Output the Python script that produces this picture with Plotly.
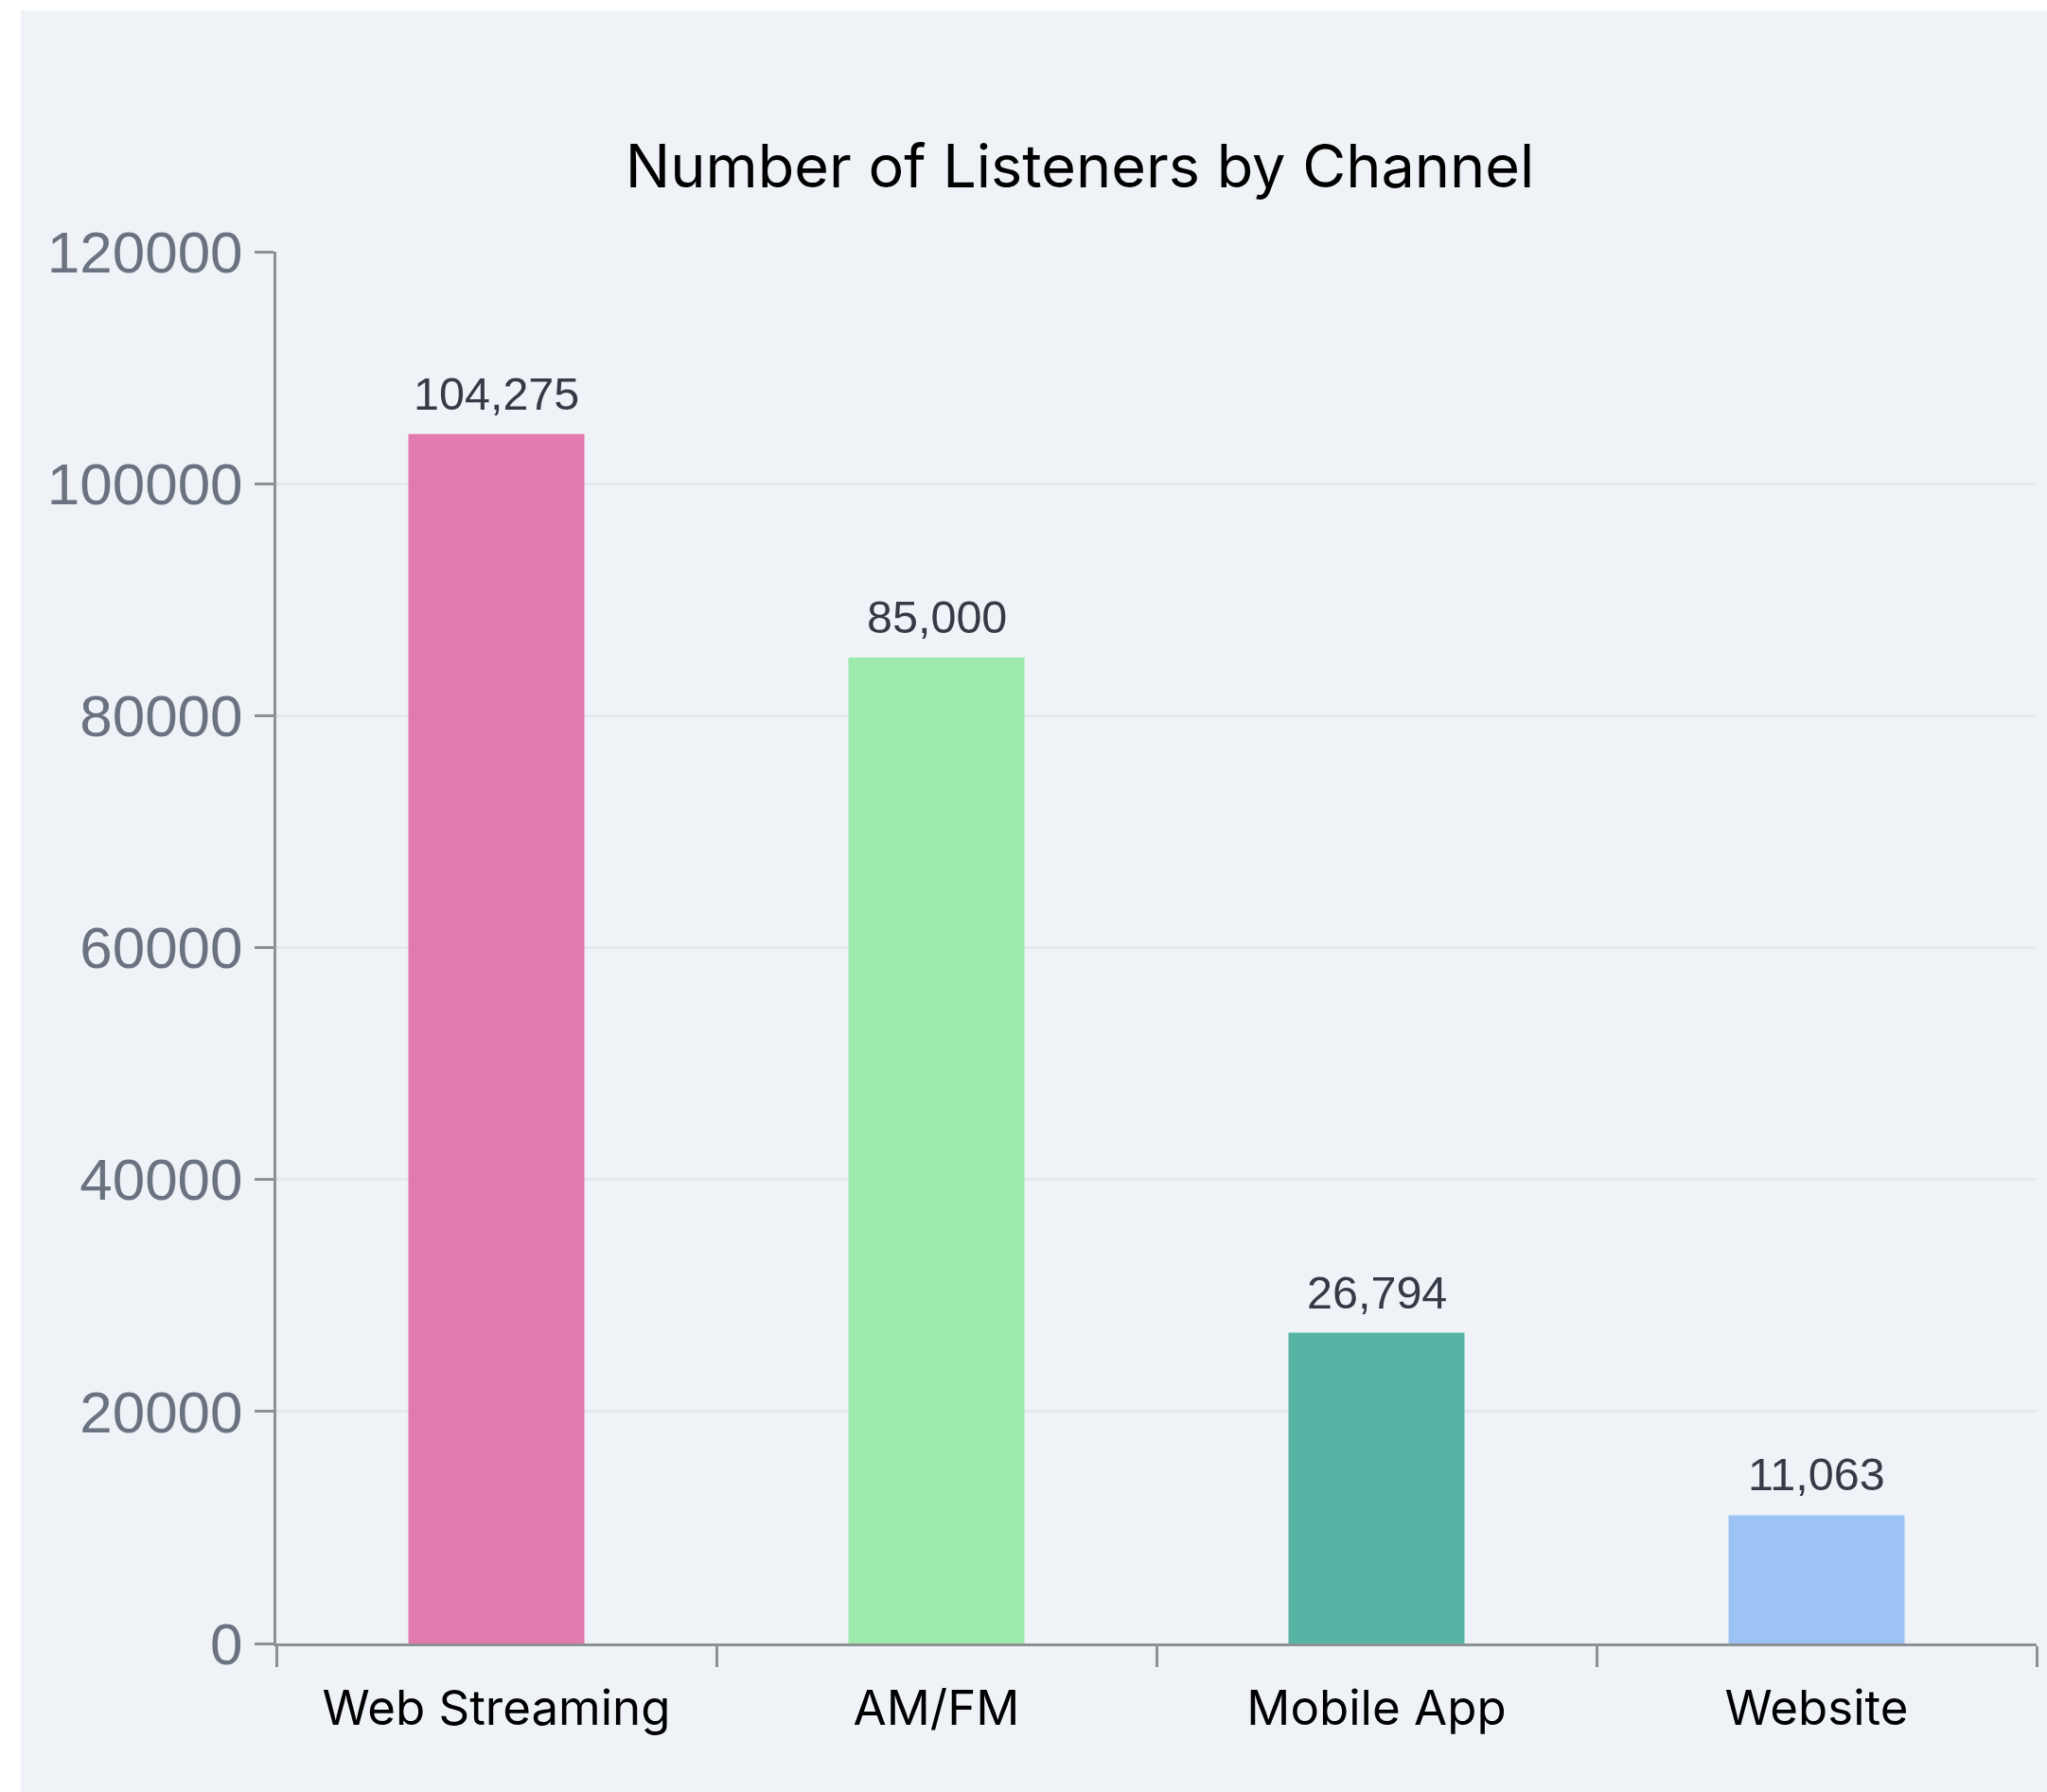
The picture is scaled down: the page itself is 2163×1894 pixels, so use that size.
import plotly.graph_objects as go

# Listener counts per channel
channels = ["Web Streaming", "AM/FM", "Mobile App", "Website"]
listeners = [104275, 85000, 26794, 11063]
bar_colors = ["#e279af", "#9deaad", "#56b4a5", "#9cc3f4"]

# Y axis ticks
y_ticks = [0, 20000, 40000, 60000, 80000, 100000, 120000]

W, H = 2163, 1894
M_L, M_R, M_T, M_B = 292, 11, 266, 157
panel = "#eff3f8"
axis_grey = "#8c9294"

fig = go.Figure()
fig.add_trace(go.Bar(
    x=channels,
    y=listeners,
    marker=dict(color=bar_colors, line=dict(width=0)),
    hoverinfo="x+y",
))

# Value labels above each bar
for c, v in zip(channels, listeners):
    fig.add_annotation(
        x=c, y=v, xref="x", yref="y",
        text=f"{v:,}",
        showarrow=False,
        yanchor="bottom",
        yshift=14,
        font=dict(family="Liberation Sans, Arial, sans-serif", size=48.5, color="#343b46"),
    )

# Light panel behind the chart, leaving a thin white border left and top
pw = W - M_L - M_R
ph = H - M_T - M_B
fig.add_shape(
    type="rect", xref="paper", yref="paper", layer="below",
    x0=(22 - M_L) / pw, x1=1 + (M_R + 5) / pw,
    y0=-(M_B + 5) / ph, y1=(H - M_B - 11) / ph,
    fillcolor=panel, line=dict(width=0),
)

fig.update_layout(
    width=W, height=H,
    margin=dict(l=M_L, r=M_R, t=M_T, b=M_B, autoexpand=False),
    paper_bgcolor="white",
    plot_bgcolor="rgba(0,0,0,0)",
    bargap=0.6,
    showlegend=False,
    title=dict(
        text="Number of Listeners by Channel",
        x=1141 / W, xanchor="center",
        y=1 - 176 / H, yanchor="middle",
        font=dict(family="Inter, sans-serif", size=63, color="#000000"),
    ),
    xaxis=dict(
        range=[-0.5, 3.5],
        showline=True, linecolor=axis_grey, linewidth=3,
        ticks="outside", tickson="boundaries", ticklen=22, tickwidth=3, tickcolor=axis_grey,
        ticklabelstandoff=22,
        showgrid=False, zeroline=False,
        tickfont=dict(family="Inter, sans-serif", size=51, color="#000000"),
    ),
    yaxis=dict(
        range=[0, 120000],
        tickvals=y_ticks,
        tickformat="d",
        showline=True, linecolor=axis_grey, linewidth=3,
        ticks="outside", ticklen=20, tickwidth=3, tickcolor=axis_grey,
        showgrid=True, gridcolor="#e5e9ee", gridwidth=3,
        zeroline=False,
        tickfont=dict(family="Liberation Sans, Arial, sans-serif", size=62, color="#6b7280"),
    ),
)

fig.write_html("out.html")
